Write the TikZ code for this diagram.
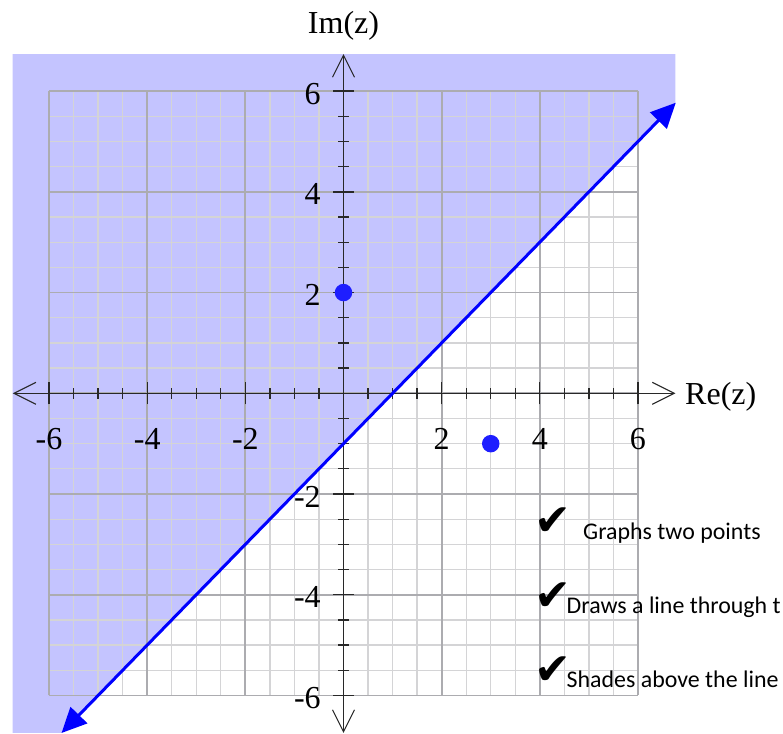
\documentclass[tikz,border=0pt]{standalone}
\usepackage{fontspec}
\setmainfont{Liberation Serif}
\newfontfamily\calib{Carlito}
\newfontfamily\symf{DejaVu Sans}
\usetikzlibrary{arrows.meta}
\definecolor{shadeblue}{RGB}{196,196,255}
\definecolor{minorgrid}{RGB}{212,212,214}
\definecolor{majorgrid}{RGB}{172,172,176}
\definecolor{axiscol}{RGB}{40,40,40}
\definecolor{dotblue}{RGB}{30,30,255}
\definecolor{lineblue}{RGB}{0,0,255}
\begin{document}
\begin{tikzpicture}[x=49.08pt,y=50.36pt,
  minorline/.style={minorgrid,line width=1.3pt},
  majorline/.style={majorgrid,line width=1.8pt},
  shaderegion/.style={fill=shadeblue,draw=none},
  axisline/.style={axiscol,line width=1.4pt,
    {Straight Barb[length=22pt,width=22pt,line width=1.1pt]}-{Straight Barb[length=22pt,width=22pt,line width=1.1pt]}},
  tickline/.style={axiscol,line width=1.3pt},
  boundline/.style={lineblue,line width=3pt,
    {Triangle[length=25pt,width=23pt]}-{Triangle[length=25pt,width=23pt]}},
  ticklabel/.style={inner sep=0pt,font=\fontsize{32}{34}\selectfont},
  axislabel/.style={inner sep=0pt,font=\fontsize{32}{34}\selectfont},
  ptdot/.style={circle,fill=dotblue,inner sep=0pt,minimum size=17.5pt},
  checkmark/.style={inner sep=0pt,font=\symf\fontsize{44}{46}\selectfont},
  checktext/.style={inner sep=0pt,anchor=base west,font=\calib\fontsize{23.9}{26}\selectfont}
]
\useasboundingbox (-343.5pt,-339.7pt) rectangle (439.5pt,393.3pt);

% shaded half-plane
\fill[shaderegion] (-6.74,6.737) -- (6.764,6.737) -- (6.764,5.764) -- (-5.745,-6.745) -- (-6.74,-6.745) -- cycle;

% grid
\foreach \v in {-6,-5.5,...,6.1} {
  \draw[minorline] (\v,-6) -- (\v,6);
  \draw[minorline] (-6,\v) -- (6,\v);
}
\foreach \v in {-6,-4,...,6} {
  \draw[majorline] (\v,-6) -- (\v,6);
  \draw[majorline] (-6,\v) -- (6,\v);
}

% axes
\coordinate (xl) at (-6.74,0);
\coordinate (xr) at (6.764,0);
\coordinate (yt) at (0,6.737);
\coordinate (yb) at (0,-6.745);
\draw[axisline] (xl) -- (xr);
\draw[axisline] (yb) -- (yt);

% ticks
\foreach \v in {-6,-5.5,...,6.1} {
  \draw[tickline] (\v,0) ++(0,-5.5pt) -- ++(0,11pt);
  \draw[tickline] (0,\v) ++(-5.5pt,0) -- ++(11pt,0);
}
\foreach \v in {-6,-4,-2,2,4,6} {
  \draw[tickline] (\v,0) ++(0,-11pt) -- ++(0,22pt);
  \draw[tickline] (0,\v) ++(-10.5pt,0) -- ++(21pt,0);
}

% tick labels
\foreach \v [count=\k] in {-6,-4,-2,2,4,6} {
  \node[ticklabel,anchor=base] (xt\k) at (\v,-1.106) {\v};
  \node[ticklabel,anchor=base east] (yt\k) at (-0.46,\v-0.258) {\v};
}

% axis labels
\node[axislabel,anchor=base] (imlab) at (0,7.148) {Im(z)};
\node[axislabel,anchor=base west] (relab) at (6.958,-0.232) {Re(z)};

% boundary line y = x - 1
\coordinate (lb) at (-5.745,-6.745);
\coordinate (lt) at (6.77,5.77);
\draw[boundline] (lb) -- (lt);

% points
\node[ptdot] (p1) at (0,2) {};
\node[ptdot] (p2) at (3,-1) {};

% checklist
\node[checkmark] (c1) at (209pt,-128.2pt) {✔};
\node[checkmark] (c2) at (209pt,-203.2pt) {✔};
\node[checkmark] (c3) at (209pt,-277.7pt) {✔};
\node[checktext] (t1) at (239.5pt,-145.7pt) {Graphs two points};
\node[checktext] (t2) at (223pt,-220pt) {Draws a line through t};
\node[checktext] (t3) at (223pt,-293.7pt) {Shades above the line};
\end{tikzpicture}
\end{document}
